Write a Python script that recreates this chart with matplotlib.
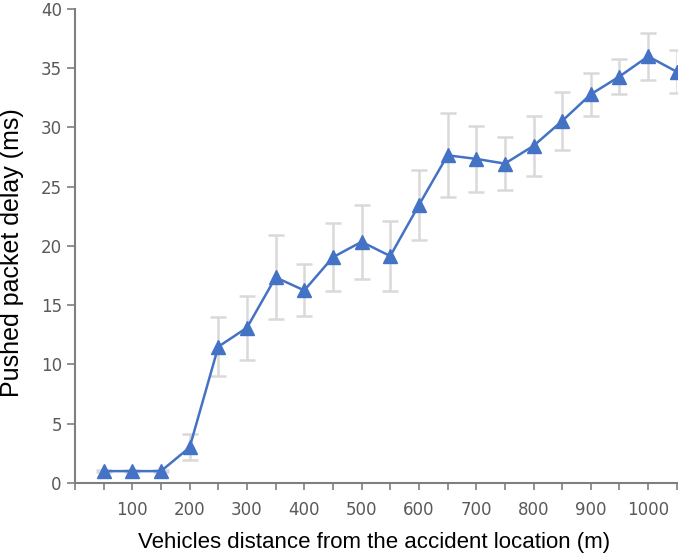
import matplotlib.pyplot as plt

# distance from accident location (m)
distance = [50, 100, 150, 200, 250, 300, 350, 400, 450, 500, 550,
            600, 650, 700, 750, 800, 850, 900, 950, 1000, 1050]
# mean pushed packet delay (ms)
delay = [1.0, 1.0, 1.0, 3.0, 11.5, 13.1, 17.35, 16.25, 19.05, 20.35, 19.15,
         23.45, 27.65, 27.35, 26.95, 28.45, 30.55, 32.8, 34.3, 36.0, 34.7]
# error bar half widths
delay_err = [0.1, 0.1, 0.1, 1.1, 2.5, 2.7, 3.55, 2.2, 2.85, 3.1, 2.95,
             2.95, 3.55, 2.8, 2.25, 2.55, 2.45, 1.8, 1.5, 2.0, 1.8]

x_ticks = list(range(0, 1051, 50))
x_labels = [str(v) if v % 100 == 0 and v > 0 else "" for v in x_ticks]
y_ticks = list(range(0, 41, 5))


def main():
    fig = plt.figure(figsize=(6.85, 5.57), dpi=100)
    ax = fig.add_axes([0.1095, 0.1329, 0.8785, 0.851])

    ax.errorbar(distance, delay, yerr=delay_err, fmt="none", ecolor="#d9d9d9",
                elinewidth=1.8, capsize=6, capthick=1.8, zorder=1)
    ax.plot(distance, delay, color="#4472c4", linewidth=1.8, marker="^",
            markersize=10, markerfacecolor="#4472c4", markeredgecolor="#4472c4",
            zorder=2)

    ax.set_xlim(0, 1050)
    ax.set_ylim(0, 40)
    ax.set_xticks(x_ticks)
    ax.set_xticklabels(x_labels)
    ax.set_yticks(y_ticks)

    for side in ["top", "right"]:
        ax.spines[side].set_visible(False)
    for side in ["left", "bottom"]:
        ax.spines[side].set_color("#7f7f7f")
        ax.spines[side].set_linewidth(1.5)
    ax.tick_params(axis="both", colors="#7f7f7f", width=1.2,
                   labelcolor="#595959", labelsize=12)
    ax.tick_params(axis="x", length=5, pad=8)
    ax.tick_params(axis="y", length=6, pad=3.5)

    ax.set_xlabel("Vehicles distance from the accident location (m)",
                  fontsize=16, family="Liberation Sans", color="black")
    ax.set_ylabel("Pushed packet delay (ms)", fontsize=18,
                  family="Liberation Sans", color="black")
    ax.xaxis.set_label_coords(0.4975, -0.103)
    ax.yaxis.set_label_coords(-0.085, 0.485)

    fig.savefig("out.png", dpi=100)


if __name__ == "__main__":
    main()
